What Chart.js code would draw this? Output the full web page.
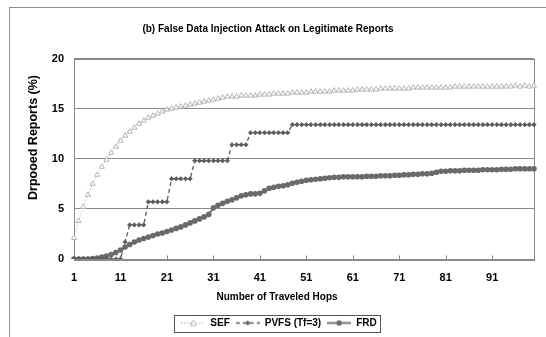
<!DOCTYPE html>
<html>
<head>
<meta charset="utf-8">
<script src="https://cdn.jsdelivr.net/npm/chart.js@4.4.1/dist/chart.umd.min.js"></script>
<style>
  html, body { margin: 0; padding: 0; background: #fff; overflow: hidden; }
  #wrap { position: relative; width: 546px; height: 337px; }
  #frame { position: absolute; left: 9px; top: 7px; width: 600px; height: 400px; border: 1px solid #8c8c8c; box-sizing: border-box; }
  #myChart { position: absolute; left: 0; top: 0; }
</style>
</head>
<body>
<div id="wrap">
  <div id="frame"></div>
  <canvas id="myChart" width="546" height="337"></canvas>
</div>
<script>
// data
const hops = [1, 2, 3, 4, 5, 6, 7, 8, 9, 10,
    11, 12, 13, 14, 15, 16, 17, 18, 19, 20,
    21, 22, 23, 24, 25, 26, 27, 28, 29, 30,
    31, 32, 33, 34, 35, 36, 37, 38, 39, 40,
    41, 42, 43, 44, 45, 46, 47, 48, 49, 50,
    51, 52, 53, 54, 55, 56, 57, 58, 59, 60,
    61, 62, 63, 64, 65, 66, 67, 68, 69, 70,
    71, 72, 73, 74, 75, 76, 77, 78, 79, 80,
    81, 82, 83, 84, 85, 86, 87, 88, 89, 90,
    91, 92, 93, 94, 95, 96, 97, 98, 99, 100];
const tickLabels = ['1', '11', '21', '31', '41', '51', '61', '71', '81', '91'];

const sef = [2.1, 3.8, 5.2, 6.4, 7.5, 8.4, 9.2, 9.9, 10.6, 11.2,
    11.8, 12.3, 12.7, 13.1, 13.5, 13.8, 14.1, 14.3, 14.5, 14.7,
    14.9, 15.0, 15.1, 15.2, 15.3, 15.4, 15.5, 15.6, 15.7, 15.8,
    15.9, 16.0, 16.1, 16.2, 16.2, 16.2, 16.3, 16.3, 16.3, 16.3,
    16.4, 16.4, 16.4, 16.5, 16.5, 16.5, 16.5, 16.6, 16.6, 16.6,
    16.6, 16.7, 16.7, 16.7, 16.7, 16.7, 16.8, 16.8, 16.8, 16.8,
    16.8, 16.9, 16.9, 16.9, 16.9, 16.9, 17.0, 17.0, 17.0, 17.0,
    17.0, 17.0, 17.0, 17.1, 17.1, 17.1, 17.1, 17.1, 17.1, 17.1,
    17.1, 17.1, 17.2, 17.2, 17.2, 17.2, 17.2, 17.2, 17.2, 17.2,
    17.2, 17.2, 17.2, 17.2, 17.2, 17.3, 17.2, 17.3, 17.2, 17.3];

const pvfs = [0, 0, 0, 0, 0, 0, 0, 0, 0, 0,
    0, 1.7, 3.4, 3.4, 3.4, 3.4, 5.7, 5.7, 5.7, 5.7,
    5.7, 8.0, 8.0, 8.0, 8.0, 8.0, 9.8, 9.8, 9.8, 9.8,
    9.8, 9.8, 9.8, 9.8, 11.4, 11.4, 11.4, 11.4, 12.6, 12.6,
    12.6, 12.6, 12.6, 12.6, 12.6, 12.6, 12.6, 13.4, 13.4, 13.4,
    13.4, 13.4, 13.4, 13.4, 13.4, 13.4, 13.4, 13.4, 13.4, 13.4,
    13.4, 13.4, 13.4, 13.4, 13.4, 13.4, 13.4, 13.4, 13.4, 13.4,
    13.4, 13.4, 13.4, 13.4, 13.4, 13.4, 13.4, 13.4, 13.4, 13.4,
    13.4, 13.4, 13.4, 13.4, 13.4, 13.4, 13.4, 13.4, 13.4, 13.4,
    13.4, 13.4, 13.4, 13.4, 13.4, 13.4, 13.4, 13.4, 13.4, 13.4];

const frd = [0, 0, 0, 0, 0.05, 0.1, 0.2, 0.3, 0.45, 0.65,
    0.9, 1.2, 1.45, 1.7, 1.9, 2.05, 2.2, 2.35, 2.5, 2.6,
    2.75, 2.9, 3.05, 3.2, 3.4, 3.6, 3.8, 4.0, 4.2, 4.45,
    5.1, 5.35, 5.55, 5.75, 5.9, 6.1, 6.3, 6.4, 6.5, 6.5,
    6.55, 6.8, 7.05, 7.15, 7.25, 7.3, 7.4, 7.55, 7.65, 7.75,
    7.85, 7.9, 7.95, 8.0, 8.05, 8.1, 8.15, 8.15, 8.2, 8.2,
    8.2, 8.2, 8.2, 8.25, 8.25, 8.25, 8.3, 8.3, 8.3, 8.35,
    8.35, 8.4, 8.4, 8.45, 8.45, 8.5, 8.5, 8.55, 8.65, 8.75,
    8.75, 8.8, 8.8, 8.8, 8.85, 8.85, 8.85, 8.85, 8.9, 8.9,
    8.9, 8.9, 8.95, 8.95, 8.95, 9.0, 9.0, 9.0, 9.0, 9.0];

const chartTitle = '(b) False Data Injection Attack on Legitimate Reports';
const xTitle = 'Number of Traveled Hops';
const yTitle = 'Drpooed Reports (%)';

const FONT = "'Liberation Sans', Arial, sans-serif";
const SEF_COLOR = '#b4b4b4';
const PVFS_COLOR = '#5a5a5a';
const FRD_COLOR = '#6a6a6a';
const GRID_COLOR = '#8a8a8a';

// legend swatches: line with marker in the middle, like the excel legend
function swatch(color, dash, width, marker) {
    const c = document.createElement('canvas');
    c.width = 24;
    c.height = 9;
    const g = c.getContext('2d');
    g.strokeStyle = color;
    g.lineWidth = width;
    g.setLineDash(dash);
    g.beginPath();
    g.moveTo(0, 4.5);
    g.lineTo(24, 4.5);
    g.stroke();
    g.setLineDash([]);
    marker(g);
    return c;
}
const sefSwatch = swatch('#999', [1, 2], 1, g => {
    g.fillStyle = '#fff';
    g.strokeStyle = SEF_COLOR;
    g.lineWidth = 1;
    g.beginPath();
    g.moveTo(12, 1.5); g.lineTo(15, 7); g.lineTo(9, 7); g.closePath();
    g.fill(); g.stroke();
});
const pvfsSwatch = swatch(PVFS_COLOR, [4, 3], 1.3, g => {
    g.fillStyle = PVFS_COLOR;
    g.beginPath();
    g.moveTo(12, 2); g.lineTo(14.5, 4.5); g.lineTo(12, 7); g.lineTo(9.5, 4.5); g.closePath();
    g.fill();
});
const frdSwatch = swatch(FRD_COLOR, [], 1.8, g => {
    g.fillStyle = FRD_COLOR;
    g.beginPath();
    g.arc(12, 4.5, 2.8, 0, Math.PI * 2);
    g.fill();
});
const swatches = [sefSwatch, pvfsSwatch, frdSwatch];

// legend sits a bit right of and below where chart.js centres it
const LEGEND_DX = 11;
const LEGEND_DY = 3;

// frame, inside ticks, axis titles, legend box
const excelDecor = {
    id: 'excelDecor',
    afterUpdate(chart) {
        const lg = chart.legend;
        lg.left += LEGEND_DX;
        lg.right += LEGEND_DX;
        lg.top += LEGEND_DY;
        lg.bottom += LEGEND_DY;
        lg.legendHitBoxes.forEach(b => { b.left += LEGEND_DX; b.top += LEGEND_DY; });
    },
    beforeDatasetsDraw(chart) {
        const {ctx, chartArea: a} = chart;
        const xs = chart.scales.x;
        ctx.save();
        ctx.strokeStyle = GRID_COLOR;
        ctx.lineWidth = 1;
        ctx.strokeRect(Math.round(a.left) + 0.5, Math.round(a.top) + 0.5,
            Math.round(a.right - a.left), Math.round(a.bottom - a.top));
        const yb = Math.round(a.bottom) + 0.5;
        hops.forEach((h, i) => {
            if (i === 0 || !tickLabels.includes(String(h))) return;
            const px = Math.round(xs.getPixelForValue(i)) + 0.5;
            ctx.beginPath();
            ctx.moveTo(px, yb);
            ctx.lineTo(px, yb - 4);
            ctx.stroke();
        });
        ctx.restore();
    },
    afterDraw(chart) {
        const {ctx} = chart;
        ctx.save();
        ctx.fillStyle = '#000';
        ctx.textAlign = 'center';
        ctx.textBaseline = 'middle';
        ctx.font = 'bold 10px ' + FONT;
        ctx.fillText(xTitle, 277, 297);
        ctx.translate(33.5, 137.5);
        ctx.rotate(-Math.PI / 2);
        ctx.font = 'bold 12.5px ' + FONT;
        ctx.fillText(yTitle, 0, 0);
        ctx.restore();

        const boxes = chart.legend.legendHitBoxes;
        if (boxes && boxes.length) {
            const l = Math.min(...boxes.map(b => b.left)) - 7;
            const r = Math.max(...boxes.map(b => b.left + b.width)) + 4;
            const t = boxes[0].top - 3.5;
            const b = boxes[0].top + boxes[0].height + 3.5;
            ctx.save();
            ctx.strokeStyle = '#555';
            ctx.lineWidth = 1;
            ctx.strokeRect(Math.round(l) + 0.5, Math.round(t) + 0.5, Math.round(r - l), Math.round(b - t));
            ctx.restore();
        }
    }
};

const data = {
    labels: hops,
    datasets: [
        {
            label: 'SEF',
            data: sef,
            borderColor: SEF_COLOR,
            borderWidth: 1,
            borderDash: [1, 2],
            pointStyle: 'triangle',
            pointRadius: 3,
            pointBackgroundColor: '#fff',
            pointBorderColor: SEF_COLOR,
            pointBorderWidth: 1,
        },
        {
            label: 'PVFS (Tf=3)',
            data: pvfs,
            borderColor: PVFS_COLOR,
            borderWidth: 1.3,
            borderDash: [4, 3],
            pointStyle: 'rectRot',
            pointRadius: 2.3,
            pointBackgroundColor: PVFS_COLOR,
            pointBorderColor: PVFS_COLOR,
            pointBorderWidth: 0.5,
        },
        {
            label: 'FRD',
            data: frd,
            borderColor: FRD_COLOR,
            borderWidth: 1.8,
            pointStyle: 'circle',
            pointRadius: 2.8,
            pointBackgroundColor: FRD_COLOR,
            pointBorderColor: FRD_COLOR,
            pointBorderWidth: 0,
        },
    ]
};

const config = {
    type: 'line',
    data,
    plugins: [excelDecor],
    options: {
        responsive: false,
        maintainAspectRatio: false,
        animation: false,
        layout: { padding: { left: 0, right: 10, top: 0, bottom: 2 } },
        plugins: {
            title: {
                display: true,
                text: chartTitle,
                color: '#000',
                font: { family: FONT, size: 10, weight: 'bold' },
                padding: { top: 23, bottom: 23.5 },
            },
            legend: {
                position: 'bottom',
                labels: {
                    color: '#000',
                    font: { family: FONT, size: 10, weight: 'bold' },
                    usePointStyle: true,
                    pointStyleWidth: 24,
                    boxHeight: 10,
                    padding: 6,
                    generateLabels: chart => chart.data.datasets.map((ds, i) => ({
                        text: ds.label,
                        pointStyle: swatches[i],
                        datasetIndex: i,
                        hidden: false,
                        lineWidth: 0,
                        fontColor: '#000',
                    })),
                },
            },
            tooltip: { enabled: false },
        },
        scales: {
            x: {
                type: 'category',
                offset: false,
                grid: { display: false, drawTicks: false },
                border: { display: false },
                ticks: {
                    autoSkip: false,
                    maxRotation: 0,
                    minRotation: 0,
                    padding: 12,
                    color: '#000',
                    font: { family: FONT, size: 11, weight: 'bold' },
                    callback: (value, index) => tickLabels.includes(String(hops[index])) ? String(hops[index]) : '',
                },
                afterFit: scale => { scale.height = 50; },
            },
            y: {
                min: 0,
                max: 20,
                grid: { color: GRID_COLOR, lineWidth: 1, drawTicks: false },
                border: { display: false },
                ticks: {
                    stepSize: 5,
                    padding: 10,
                    color: '#000',
                    font: { family: FONT, size: 11, weight: 'bold' },
                },
                afterFit: scale => { scale.width = 74; },
            },
        },
    },
};

const ctx = document.getElementById('myChart');
const myChart = new Chart(ctx, config);
</script>
</body>
</html>
